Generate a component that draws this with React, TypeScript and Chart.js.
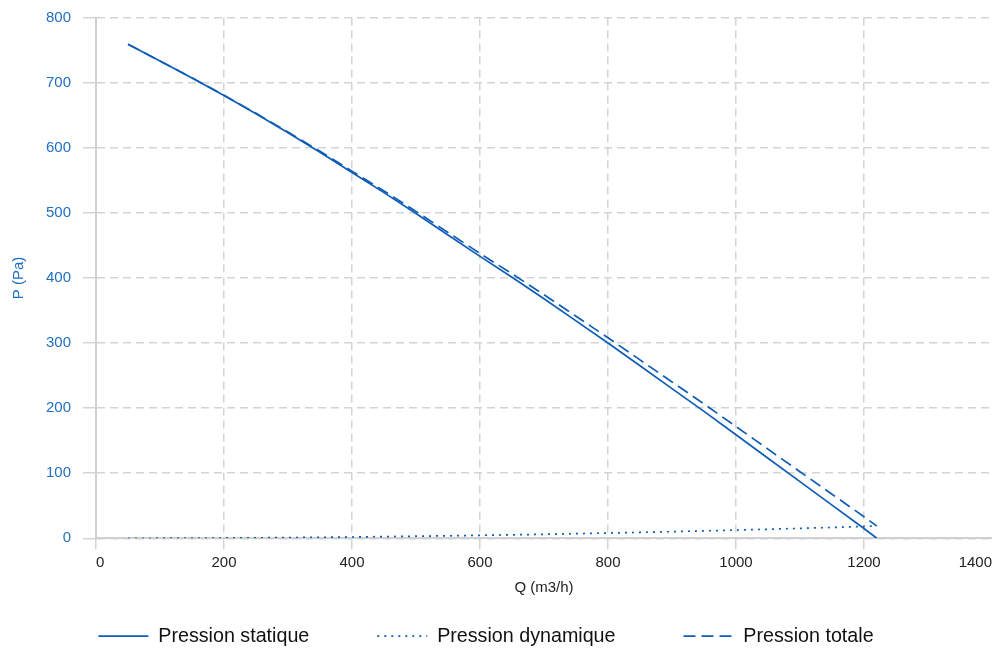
import { useEffect, useRef } from "react";
import { Chart, registerables } from "chart.js";

Chart.register(...registerables);

// Flow rate Q (m3/h)
const flowRates = [50, 100, 150, 200, 250, 300, 350, 400, 450, 500, 550, 600, 650, 700, 750, 800, 850, 900, 950, 1000, 1050, 1100, 1150, 1200, 1220];
// Pressures (Pa)
const staticPressure = [759, 733, 707, 680, 652, 623, 593, 562, 531, 499, 466, 433, 401, 368, 334, 300, 265, 230, 195, 159, 123, 87, 51, 15, 0];
const dynamicPressure = [0.03, 0.13, 0.28, 0.51, 0.79, 1.1, 1.5, 2.0, 2.6, 3.2, 3.8, 4.6, 5.3, 6.2, 7.1, 8.1, 9.1, 10.2, 11.4, 12.6, 13.9, 15.3, 16.7, 18.2, 18.8];
const totalPressure = [759.0, 733.1, 707.3, 680.5, 652.8, 624.1, 594.5, 564.0, 533.6, 502.2, 469.8, 437.6, 406.3, 374.2, 341.1, 308.1, 274.1, 240.2, 206.4, 171.6, 136.9, 102.3, 67.7, 33.2, 18.8];

const seriesLabels = ["Pression statique", "Pression dynamique", "Pression totale"];
const seriesDashes = [[], [2, 5], [12, 6]];
const xAxisTitle = "Q (m3/h)";
const yAxisTitle = "P (Pa)";

const LINE_BLUE = "#0f5db6";
const LABEL_BLUE = "#1f6fc5";
const GRID = "#d4d4d4";
const FONT = "'Liberation Sans', Arial, sans-serif";

const legendShift = {
  id: "legendShift",
  afterLayout(chart: any) {
    if (chart.legend) {
      chart.legend.left -= 10;
      chart.legend.right -= 10;
    }
  },
};

export default function App() {
  const canvasRef = useRef<HTMLCanvasElement>(null);

  useEffect(() => {
    if (!canvasRef.current) return;
    const toPoints = (ys: number[]) => flowRates.map((x, i) => ({ x, y: ys[i] }));
    const makeSet = (i: number, ys: number[]) => ({
      label: seriesLabels[i],
      data: toPoints(ys),
      borderColor: LINE_BLUE,
      backgroundColor: LINE_BLUE,
      borderWidth: 1.7,
      borderDash: seriesDashes[i],
      pointRadius: 0,
      tension: 0,
    });
    const chart = new Chart(canvasRef.current, {
      type: "line",
      data: {
        datasets: [makeSet(0, staticPressure), makeSet(1, dynamicPressure), makeSet(2, totalPressure)],
      },
      options: {
        animation: false,
        responsive: true,
        maintainAspectRatio: false,
        layout: { padding: { top: 17.5, left: 0, right: 0, bottom: 0 } },
        font: { family: FONT },
        scales: {
          x: {
            type: "linear",
            min: 0,
            max: 1400,
            ticks: {
              stepSize: 200,
              align: "inner",
              padding: 4.5,
              color: "#222",
              font: { family: FONT, size: 15 },
              callback: (v: any) => String(v),
            },
            grid: {
              color: (c: any) => (c.tick && c.tick.value === 1400 ? "rgba(0,0,0,0)" : GRID),
              lineWidth: 1.5,
              tickLength: 11,
            },
            border: { display: true, color: "#d0d0d0", width: 2, dash: [8, 5] },
            title: {
              display: true,
              text: xAxisTitle,
              color: "#222",
              font: { family: FONT, size: 15 },
              padding: { top: 3, bottom: 0 },
            },
            afterFit: (s: any) => {
              s.paddingRight = 0;
              s.paddingLeft = 0;
            },
          },
          y: {
            type: "linear",
            min: 0,
            max: 800,
            ticks: {
              stepSize: 100,
              padding: 12,
              color: LABEL_BLUE,
              font: { family: FONT, size: 15 },
              callback: (v: any) => String(v),
            },
            grid: {
              color: GRID,
              lineWidth: 1.5,
              tickLength: 13,
            },
            border: { display: true, color: "#d0d0d0", width: 2, dash: [8, 5] },
            title: {
              display: true,
              text: yAxisTitle,
              color: LABEL_BLUE,
              font: { family: FONT, size: 15 },
              padding: { top: 10, bottom: 0 },
            },
            afterFit: (s: any) => {
              s.width = 96;
              s.paddingTop = 0;
              s.paddingBottom = 0;
            },
          },
        },
        plugins: {
          legend: {
            position: "bottom",
            title: {
              display: true,
              text: "",
              font: { size: 1, lineHeight: 1 },
              padding: { top: -40, bottom: 0 },
            },
            labels: {
              usePointStyle: true,
              pointStyle: "line",
              pointStyleWidth: 50,
              padding: 68,
              color: "#111",
              font: { family: FONT, size: 19.7 },
              generateLabels: (c: any) => {
                const items = (Chart as any).defaults.plugins.legend.labels.generateLabels(c);
                return items.map((it: any) => ({
                  ...it,
                  lineDash: seriesDashes[it.datasetIndex] || [],
                  lineWidth: 1.7,
                  strokeStyle: LINE_BLUE,
                  fillStyle: LINE_BLUE,
                }));
              },
            },
          },
          tooltip: { enabled: false },
        },
      } as any,
      plugins: [legendShift],
    });
    return () => chart.destroy();
  }, []);

  return (
    <div style={{ position: "absolute", left: 0, top: 0, width: 992, height: 648, overflow: "hidden", background: "#fff" }}>
      <div style={{ position: "relative", width: 992, height: 656 }}>
        <canvas ref={canvasRef} />
      </div>
    </div>
  );
}
